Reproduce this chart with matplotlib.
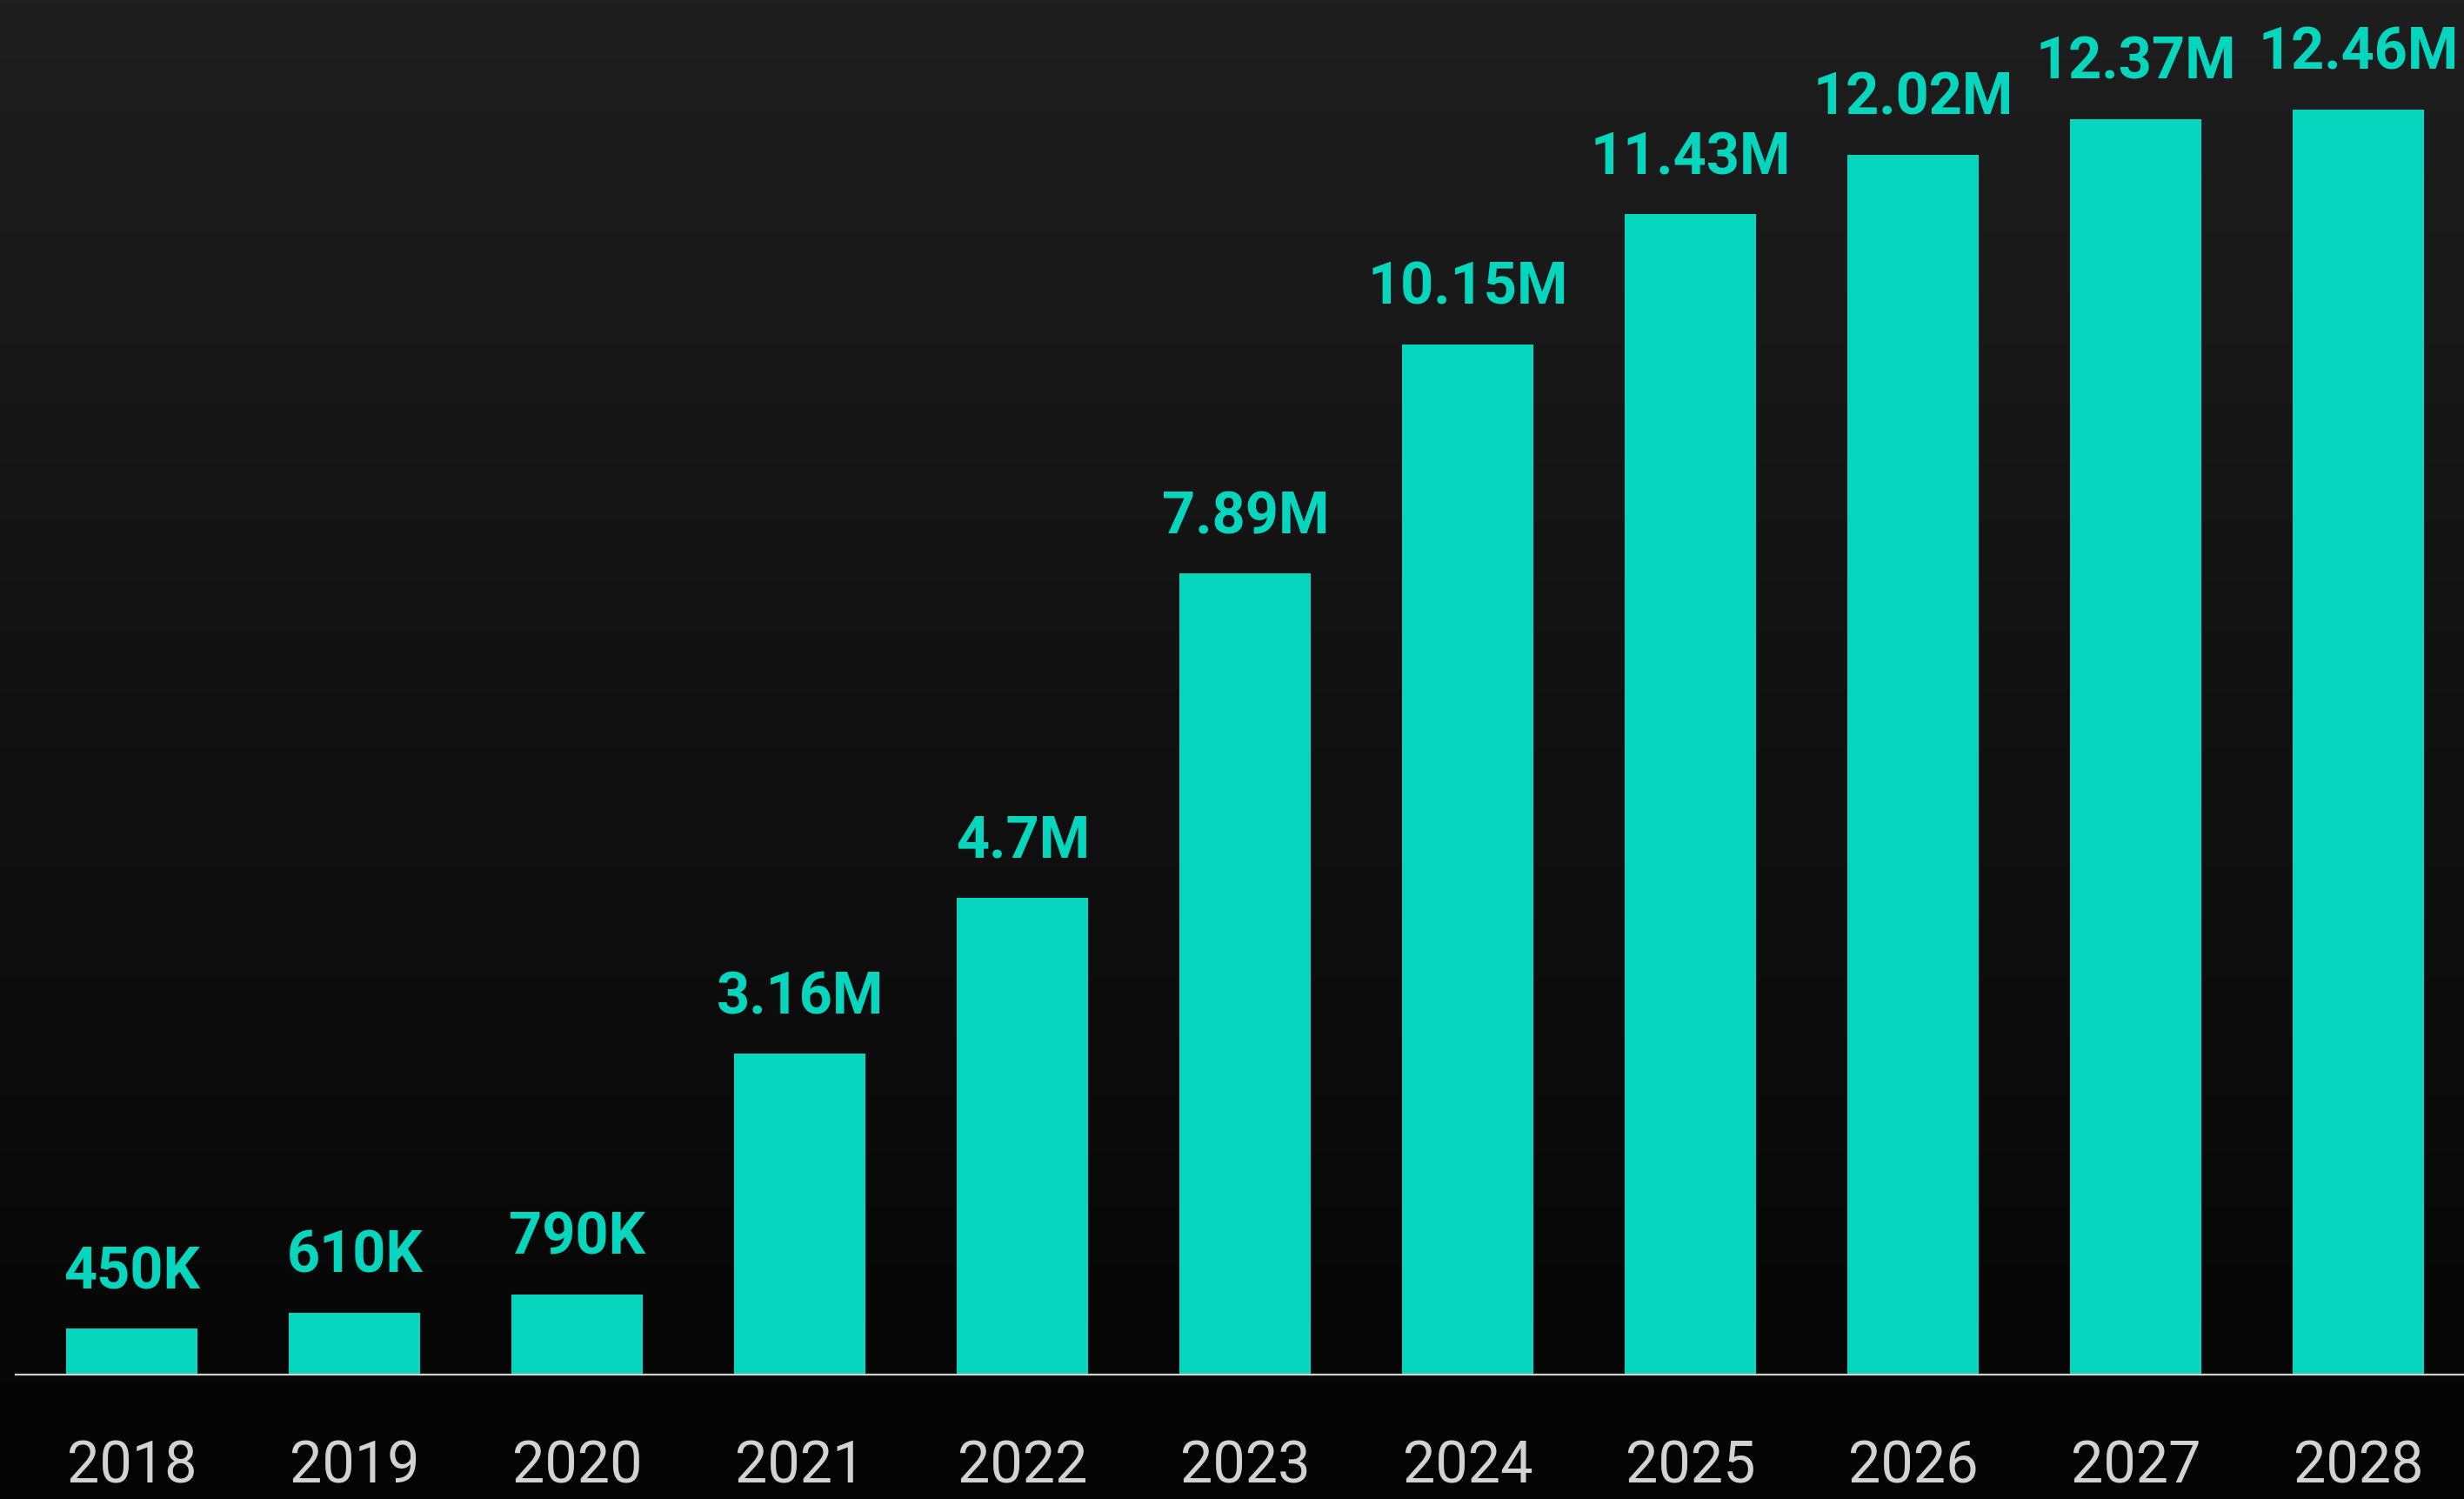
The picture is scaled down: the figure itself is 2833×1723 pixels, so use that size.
import numpy as np
import matplotlib.pyplot as plt

# --- Data ---
years = ["2018", "2019", "2020", "2021", "2022", "2023", "2024", "2025", "2026", "2027", "2028"]
values_m = [0.45, 0.61, 0.79, 3.16, 4.7, 7.89, 10.15, 11.43, 12.02, 12.37, 12.46]
labels = ["450K", "610K", "790K", "3.16M", "4.7M", "7.89M", "10.15M", "11.43M", "12.02M", "12.37M", "12.46M"]

BAR_COLOR = "#07d6bf"
TEXT_GREY = "#d2d2d2"

plt.rcParams['font.family'] = ['Roboto', 'DejaVu Sans']

fig = plt.figure(figsize=(28.33, 17.24), dpi=100)

# background gradient (dark grey at top to near black at bottom)
bg = fig.add_axes([0, 0, 1, 1], zorder=0)
grad = np.linspace(0, 1, 256).reshape(-1, 1)
top, bottom = np.array([0x1e, 0x1e, 0x1e]) / 255, np.array([0x04, 0x04, 0x04]) / 255
img = top + (bottom - top) * grad[:, :, None]
bg.imshow(img, aspect='auto', extent=[0, 1, 0, 1])
bg.axis('off')

ax = fig.add_axes([18 / 2833, 1 - 1581 / 1724, 1 - 18 / 2833, 1581 / 1724], zorder=1)
ax.patch.set_alpha(0)

x = np.arange(len(years))
ax.bar(x, values_m, width=0.59, color=BAR_COLOR)

for xi, v, lab in zip(x, values_m, labels):
    ax.annotate(lab, (xi, v), xytext=(0, 34), textcoords='offset points',
                ha='center', va='baseline', color=BAR_COLOR,
                fontsize=48, fontweight='bold')

ax.set_xlim(-0.523, 10.473)
ax.set_ylim(0, 13.55)
ax.set_xticks(x)
ax.set_xticklabels(years, color=TEXT_GREY, fontsize=48)
ax.tick_params(axis='x', length=0, pad=53)
ax.set_yticks([])
for s in ['top', 'right', 'left']:
    ax.spines[s].set_visible(False)
ax.spines['bottom'].set_color(TEXT_GREY)
ax.spines['bottom'].set_linewidth(1.6)

fig.savefig("out.png", dpi=100)
